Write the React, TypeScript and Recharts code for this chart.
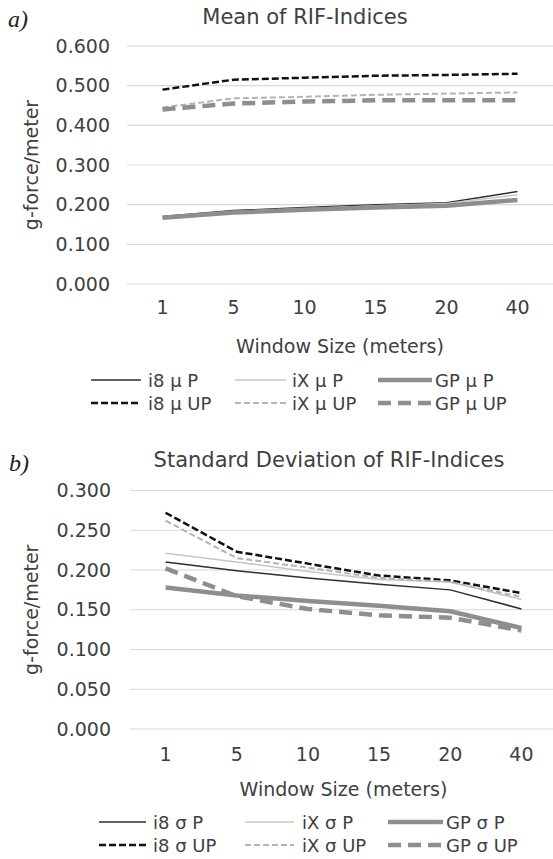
import { CartesianGrid, Label, Legend, Line, LineChart, XAxis, YAxis } from 'recharts'

const windowSizes = ['1', '5', '10', '15', '20', '40']

// a) mean of RIF-indices
const meanI8P = [0.17, 0.185, 0.193, 0.2, 0.205, 0.233]
const meanIXP = [0.168, 0.183, 0.19, 0.197, 0.203, 0.225]
const meanGPP = [0.167, 0.18, 0.187, 0.193, 0.197, 0.212]
const meanI8UP = [0.49, 0.515, 0.52, 0.525, 0.527, 0.53]
const meanIXUP = [0.445, 0.468, 0.472, 0.477, 0.48, 0.483]
const meanGPUP = [0.44, 0.455, 0.46, 0.463, 0.463, 0.463]
const meanTicks = [0, 0.1, 0.2, 0.3, 0.4, 0.5, 0.6]

// b) standard deviation of RIF-indices
const sdI8P = [0.21, 0.199, 0.19, 0.182, 0.175, 0.151]
const sdIXP = [0.221, 0.21, 0.198, 0.188, 0.185, 0.163]
const sdGPP = [0.178, 0.168, 0.161, 0.155, 0.148, 0.127]
const sdI8UP = [0.272, 0.223, 0.208, 0.193, 0.187, 0.171]
const sdIXUP = [0.262, 0.215, 0.203, 0.19, 0.185, 0.166]
const sdGPUP = [0.202, 0.167, 0.151, 0.143, 0.14, 0.124]
const sdTicks = [0, 0.05, 0.1, 0.15, 0.2, 0.25, 0.3]

const meanLabels = ['i8 µ P', 'iX µ P', 'GP µ P', 'i8 µ UP', 'iX µ UP', 'GP µ UP']
const sdLabels = ['i8 σ P', 'iX σ P', 'GP σ P', 'i8 σ UP', 'iX σ UP', 'GP σ UP']

const FONT = '"DejaVu Sans", sans-serif'
const TEXT = '#404040'

const KEYS = ['i8P', 'iXP', 'gpP', 'i8UP', 'iXUP', 'gpUP']
const STYLES: Record<string, { stroke: string; strokeWidth: number; strokeDasharray?: string }> = {
  i8P: { stroke: '#2e2e2e', strokeWidth: 1.5 },
  iXP: { stroke: '#c6c6c6', strokeWidth: 1.5 },
  gpP: { stroke: '#8e8e8e', strokeWidth: 4.5 },
  i8UP: { stroke: '#111111', strokeWidth: 2.5, strokeDasharray: '7 3' },
  iXUP: { stroke: '#b3b3b3', strokeWidth: 2, strokeDasharray: '6 3' },
  gpUP: { stroke: '#8e8e8e', strokeWidth: 4.5, strokeDasharray: '13 7' },
}

function buildRows(series: number[][]) {
  return windowSizes.map((w, i) => {
    const row: Record<string, string | number> = { w }
    KEYS.forEach((k, s) => (row[k] = series[s][i]))
    return row
  })
}

const meanRows = buildRows([meanI8P, meanIXP, meanGPP, meanI8UP, meanIXUP, meanGPUP])
const sdRows = buildRows([sdI8P, sdIXP, sdGPP, sdI8UP, sdIXUP, sdGPUP])

type Col = [number, number, number]

function makeLegend(labels: string[], cols: Col[], rowY: number[]) {
  return () => (
    <svg width={553} height={50} style={{ display: 'block' }}>
      {KEYS.map((k, i) => {
        const [x1, x2, tx] = cols[i % 3]
        const y = rowY[Math.floor(i / 3)]
        const st = STYLES[k]
        return (
          <g key={k}>
            <line x1={x1} x2={x2} y1={y} y2={y} {...st} />
            <text x={tx} y={y} dominantBaseline="central" fontFamily={FONT} fontSize={18} fill={TEXT}>
              {labels[i]}
            </text>
          </g>
        )
      })}
    </svg>
  )
}

function yLabel(props: any) {
  const vb = props.viewBox || {}
  const cx = 31
  const cy = vb.y + vb.height / 2
  return (
    <text
      x={cx}
      y={cy}
      transform={`rotate(-90 ${cx} ${cy})`}
      textAnchor="middle"
      dominantBaseline="central"
      fontFamily={FONT}
      fontSize={19}
      fill={TEXT}
    >
      g-force/meter
    </text>
  )
}

type PanelProps = {
  rows: Record<string, string | number>[]
  labels: string[]
  ticks: number[]
  width: number
  height: number
  margin: { top: number; right: number; bottom: number; left: number }
  yWidth: number
  tickGap: number
  xTickGap: number
  titleOffset: number
  legendTop: number
  legendCols: Col[]
}

function Panel(p: PanelProps) {
  const pad = (p.width - p.yWidth) / 12
  return (
    <LineChart width={p.width} height={p.height} margin={p.margin} data={p.rows}>
      <CartesianGrid vertical={false} stroke="#d9d9d9" strokeWidth={1.2} />
      <XAxis
        dataKey="w"
        interval={0}
        height={86}
        padding={{ left: pad, right: pad }}
        axisLine={false}
        tickLine={false}
        tickMargin={p.xTickGap}
        tick={{ fill: TEXT, fontSize: 19, fontFamily: FONT }}
      >
        <Label
          value="Window Size (meters)"
          position="insideBottom"
          offset={p.titleOffset}
          style={{ fill: TEXT, fontSize: 19, fontFamily: FONT }}
        />
      </XAxis>
      <YAxis
        width={p.yWidth}
        domain={[p.ticks[0], p.ticks[p.ticks.length - 1]]}
        ticks={p.ticks}
        interval={0}
        axisLine={false}
        tickLine={false}
        tickMargin={p.tickGap}
        tickFormatter={(v: number) => v.toFixed(3)}
        tick={{ fill: TEXT, fontSize: 19, fontFamily: FONT }}
      >
        <Label content={yLabel} />
      </YAxis>
      <Legend
        layout="horizontal"
        verticalAlign="middle"
        align="center"
        content={makeLegend(p.labels, p.legendCols, [12, 35])}
        wrapperStyle={{ position: 'absolute', left: 0, top: p.legendTop, width: 553, height: 50 }}
      />
      {KEYS.map((k, i) => (
        <Line
          key={k}
          dataKey={k}
          name={p.labels[i]}
          type="linear"
          dot={false}
          activeDot={false}
          isAnimationActive={false}
          strokeLinecap="butt"
          {...STYLES[k]}
        />
      ))}
    </LineChart>
  )
}

export default function App() {
  return (
    <div
      style={{
        position: 'absolute',
        left: 0,
        top: 0,
        width: 553,
        height: 859,
        overflow: 'hidden',
        background: '#fff',
      }}
    >
      <div style={{ position: 'absolute', left: 0, top: 0 }}>
        <Panel
          rows={meanRows}
          labels={meanLabels}
          ticks={meanTicks}
          width={553}
          height={420}
          margin={{ top: 46, right: 0, bottom: 50, left: 0 }}
          yWidth={127}
          tickGap={11}
          xTickGap={11}
          titleOffset={17}
          legendTop={368}
          legendCols={[
            [91, 141, 148],
            [235, 286, 292],
            [378, 432, 435],
          ]}
        />
      </div>
      <div style={{ position: 'absolute', left: 0, top: 440 }}>
        <Panel
          rows={sdRows}
          labels={sdLabels}
          ticks={sdTicks}
          width={557}
          height={419}
          margin={{ top: 50.5, right: 0, bottom: 44, left: 0 }}
          yWidth={130}
          tickGap={13}
          xTickGap={13}
          titleOffset={19}
          legendTop={370}
          legendCols={[
            [99, 146, 153],
            [245, 294, 302],
            [388, 443, 446],
          ]}
        />
      </div>
      <svg
        width={553}
        height={859}
        style={{ position: 'absolute', left: 0, top: 0, pointerEvents: 'none' }}
      >
        <text x={8} y={27} fontFamily='"Liberation Serif", serif' fontStyle="italic" fontSize={24} fill="#222">
          a)
        </text>
        <text x={305} y={23.5} textAnchor="middle" fontFamily={FONT} fontSize={21} fill={TEXT}>
          Mean of RIF-Indices
        </text>
        <text x={9} y={471} fontFamily='"Liberation Serif", serif' fontStyle="italic" fontSize={24} fill="#222">
          b)
        </text>
        <text x={329} y={467} textAnchor="middle" fontFamily={FONT} fontSize={21} fill={TEXT}>
          Standard Deviation of RIF-Indices
        </text>
      </svg>
    </div>
  )
}
